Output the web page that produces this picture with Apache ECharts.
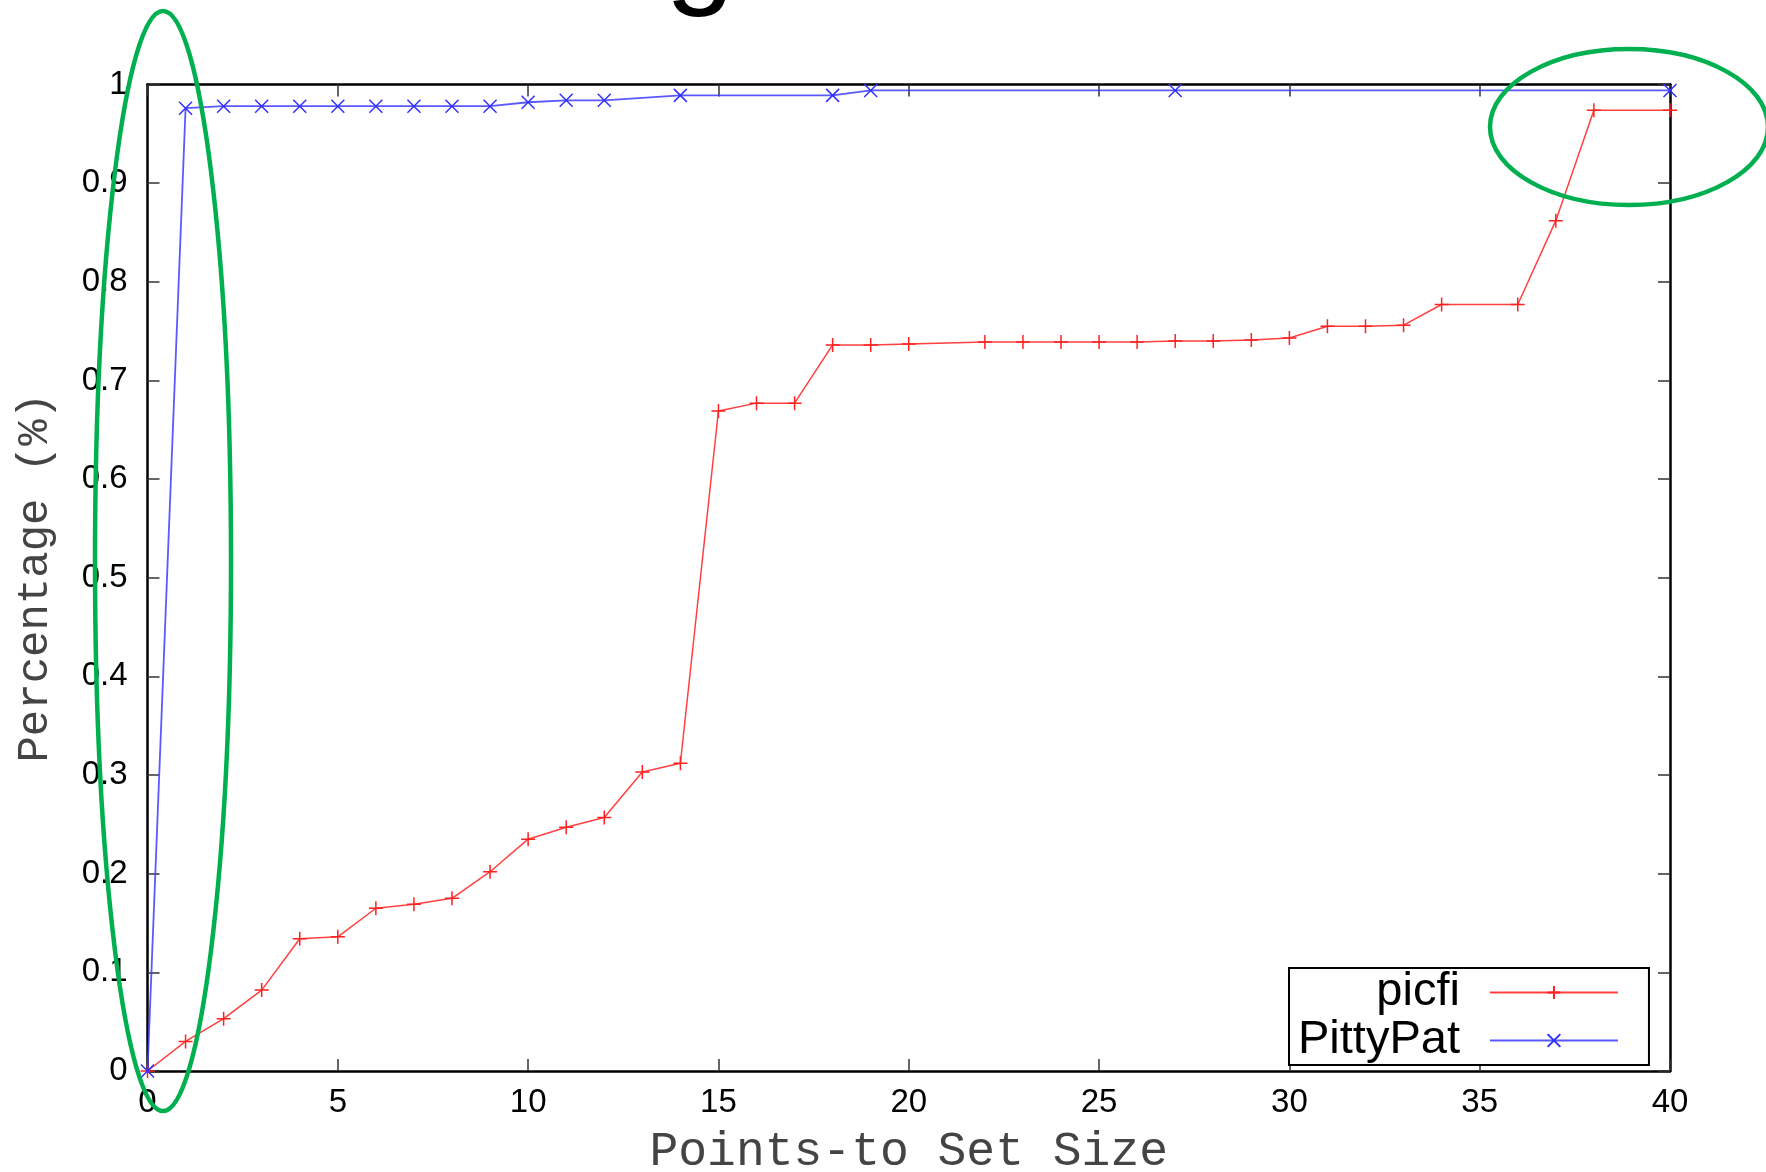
<!DOCTYPE html>
<html>
<head>
<meta charset="utf-8">
<title>Points-to Set Size</title>
<script src="https://cdn.jsdelivr.net/npm/echarts@6/dist/echarts.min.js"></script>
<style>
  html, body { margin: 0; padding: 0; background: #fff; }
  #chart { width: 1766px; height: 1172px; }
</style>
</head>
<body>
<div id="chart"></div>
<script>
// picfi (red, "+")
const picfiX = [0, 1, 2, 3, 4, 5, 6, 7, 8, 9, 10, 11, 12, 13, 14, 15, 16, 17, 18, 19, 20,
  22, 23, 24, 25, 26, 27, 28, 29, 30, 31, 32, 33, 34, 36, 37, 38, 40]
const picfiY = [0, 0.030, 0.053, 0.082, 0.134, 0.136, 0.165, 0.169, 0.175, 0.202, 0.235, 0.247, 0.257, 0.303, 0.312,
  0.669, 0.677, 0.677, 0.736, 0.736, 0.737,
  0.739, 0.739, 0.739, 0.739, 0.739, 0.740, 0.740, 0.741, 0.743, 0.755, 0.755, 0.756, 0.777, 0.777, 0.862, 0.974, 0.974]

// PittyPat (blue, "x")
const pittyX = [0, 1, 2, 3, 4, 5, 6, 7, 8, 9, 10, 11, 12, 14, 18, 19, 27, 40]
const pittyY = [0, 0.976, 0.978, 0.978, 0.978, 0.978, 0.978, 0.978, 0.978, 0.978, 0.982, 0.984, 0.984, 0.989, 0.989, 0.994, 0.994, 0.994]

const seriesNames = ['picfi', 'PittyPat']

const plusPath = 'path://M0,6L12,6M6,0L6,12'
const crossPath = 'path://M0,0L12,12M12,0L0,12'

const chart = echarts.init(document.getElementById('chart'))

function pairs(xs, ys) {
  return xs.map((x, i) => [x, ys[i]])
}

const tickStyle = {
  show: true,
  inside: true,
  length: 12,
  lineStyle: { color: '#333', width: 1.5 },
}
const frameLine = {
  show: true,
  onZero: false,
  lineStyle: { color: '#000', width: 2.5 },
}
const labelFont = {
  color: '#000',
  fontFamily: 'Liberation Sans',
  fontSize: 33,
}

chart.setOption({
  backgroundColor: '#fff',
  animation: false,
  grid: {
    left: 147.5,
    right: 96,
    top: 84.5,
    bottom: 101,
    outerBoundsMode: 'none',
    containLabel: false,
  },
  legend: {
    data: seriesNames,
    orient: 'vertical',
    left: 1289,
    top: 968,
    align: 'right',
    itemWidth: 128,
    itemHeight: 16,
    itemGap: 1,
    padding: [1, 30, 1, 9],
    borderColor: '#000',
    borderWidth: 2,
    backgroundColor: '#fff',
    selectedMode: false,
    textStyle: {
      color: '#000',
      fontFamily: 'Liberation Sans',
      fontSize: 47,
      lineHeight: 44,
      width: 160,
      padding: [0, 25, 0, 0],
    },
  },
  xAxis: [
    {
      type: 'value',
      min: 0,
      max: 40,
      interval: 5,
      name: 'Points-to Set Size',
      nameLocation: 'middle',
      nameGap: 57,
      nameTextStyle: {
        color: '#444',
        fontFamily: 'Liberation Mono',
        fontSize: 48,
      },
      axisLine: frameLine,
      axisTick: tickStyle,
      axisLabel: Object.assign({ margin: 15 }, labelFont),
      splitLine: { show: false },
    },
    {
      type: 'value',
      position: 'top',
      min: 0,
      max: 40,
      interval: 5,
      axisLine: frameLine,
      axisTick: tickStyle,
      axisLabel: { show: false },
      splitLine: { show: false },
    },
  ],
  yAxis: [
    {
      type: 'value',
      min: 0,
      max: 1,
      interval: 0.1,
      name: 'Percentage (%)',
      nameLocation: 'middle',
      nameGap: 90,
      nameTextStyle: {
        color: '#444',
        fontFamily: 'Liberation Mono',
        fontSize: 44,
      },
      axisLine: frameLine,
      axisTick: tickStyle,
      axisLabel: Object.assign({ margin: 20 }, labelFont),
      splitLine: { show: false },
    },
    {
      type: 'value',
      position: 'right',
      min: 0,
      max: 1,
      interval: 0.1,
      axisLine: frameLine,
      axisTick: tickStyle,
      axisLabel: { show: false },
      splitLine: { show: false },
    },
  ],
  series: [
    {
      name: 'picfi',
      type: 'line',
      clip: false,
      symbol: plusPath,
      symbolSize: 14,
      lineStyle: { color: 'rgba(255, 30, 30, 0.85)', width: 1.5 },
      itemStyle: { color: '#ff2020', borderColor: '#ff2020', borderWidth: 1.5 },
      data: pairs(picfiX, picfiY),
      z: 3,
    },
    {
      name: 'PittyPat',
      type: 'line',
      clip: false,
      symbol: crossPath,
      symbolSize: 13,
      lineStyle: { color: 'rgba(60, 60, 255, 0.85)', width: 1.8 },
      itemStyle: { color: '#3030ff', borderColor: '#3030ff', borderWidth: 1.5 },
      data: pairs(pittyX, pittyY),
      z: 4,
    },
  ],
  graphic: [
    // cut-off title glyph at the top edge
    {
      type: 'text',
      x: 700,
      y: -43,
      z: 10,
      style: {
        text: 'g',
        fill: '#000',
        font: '125px "Liberation Sans"',
        align: 'center',
        verticalAlign: 'middle',
      },
    },
    // green highlight ellipses
    {
      type: 'ellipse',
      z: 100,
      shape: { cx: 163, cy: 561, rx: 68, ry: 550 },
      style: { fill: 'none', stroke: '#00b050', lineWidth: 4.5 },
    },
    {
      type: 'ellipse',
      z: 100,
      shape: { cx: 1629, cy: 127, rx: 139, ry: 78 },
      style: { fill: 'none', stroke: '#00b050', lineWidth: 4.5 },
    },
  ],
})

window.addEventListener('resize', () => chart.resize())
</script>
</body>
</html>
